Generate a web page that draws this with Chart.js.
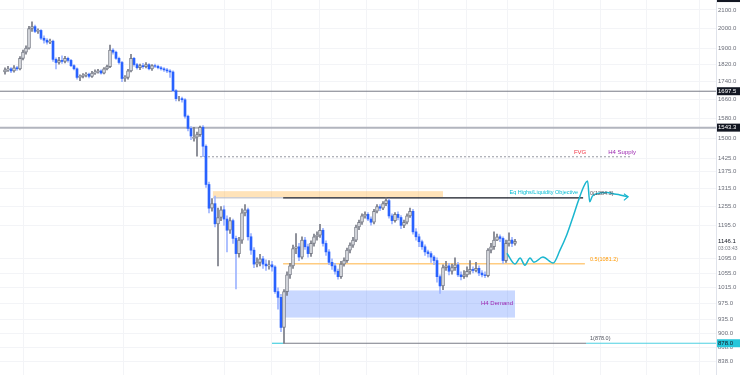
<!DOCTYPE html>
<html>
<head>
<meta charset="utf-8">
<script src="https://cdn.jsdelivr.net/npm/chart.js@4"></script>
<style>
html, body { margin: 0; padding: 0; background: #fff; }
#wrap { width: 750px; height: 375px; }
</style>
</head>
<body>
<div id="wrap"><canvas id="chart" width="750" height="375"></canvas></div>
<script>
// candle data (H4-ish bars, index = bar number)
const opens = [
  1785,1795,1800,1790,1805,1800,1850,1880,1900,2000,
  2010,1985,1990,1950,1940,1930,1935,1845,1830,1840,
  1835,1850,1840,1815,1800,1760,1765,1770,1775,1765,
  1780,1785,1790,1780,1800,1810,1890,1880,1850,1830,
  1755,1760,1790,1850,1820,1805,1815,1810,1820,1800,
  1815,1812,1805,1800,1795,1790,1785,1700,1665,1665,
  1660,1590,1540,1500,1505,1515,1545,1470,1330,1250,
  1265,1200,1220,1245,1215,1180,1210,1155,1110,1150,
  1235,1245,1160,1120,1080,1085,1095,1080,1075,1078,
  1072,1005,990,915,1005,1050,1075,1125,1130,1100,
  1150,1130,1110,1140,1160,1165,1180,1140,1115,1085,
  1075,1060,1045,1080,1090,1120,1135,1150,1190,1205,
  1225,1230,1215,1205,1240,1255,1250,1265,1275,1225,
  1210,1230,1220,1195,1205,1225,1240,1175,1160,1145,
  1130,1115,1110,1100,1090,1045,1020,1070,1075,1060,
  1070,1078,1050,1045,1050,1060,1065,1062,1068,1055,
  1050,1048,1120,1130,1150,1160,1155,1090,1140,1150,
  1140
];
const highs = [
  1805,1812,1806,1815,1812,1858,1890,1912,2012,2035,
  2018,1998,1995,1962,1948,1945,1940,1852,1855,1862,
  1860,1856,1845,1820,1805,1772,1778,1782,1780,1788,
  1795,1798,1795,1806,1818,1915,1898,1885,1856,1836,
  1768,1798,1870,1855,1826,1822,1826,1830,1825,1820,
  1822,1818,1812,1806,1802,1796,1790,1705,1675,1672,
  1665,1595,1548,1545,1525,1550,1552,1475,1338,1282,
  1290,1250,1255,1258,1225,1220,1215,1162,1158,1248,
  1262,1250,1170,1128,1098,1108,1102,1092,1090,1088,
  1076,1015,998,1010,1058,1082,1135,1170,1140,1160,
  1158,1138,1148,1168,1175,1198,1186,1148,1122,1095,
  1082,1066,1088,1098,1126,1142,1158,1196,1212,1232,
  1238,1236,1222,1246,1262,1262,1272,1284,1280,1232,
  1236,1238,1226,1212,1232,1250,1246,1185,1168,1150,
  1136,1120,1116,1104,1098,1050,1078,1088,1082,1080,
  1098,1085,1058,1062,1072,1090,1072,1085,1075,1062,
  1058,1125,1140,1175,1168,1166,1160,1150,1172,1158,
  1152
];
const lows = [
  1775,1788,1782,1784,1792,1795,1842,1870,1895,1985,
  1978,1975,1942,1925,1920,1922,1835,1800,1822,1826,
  1828,1832,1810,1795,1752,1745,1758,1762,1758,1760,
  1774,1780,1775,1776,1795,1805,1870,1845,1822,1740,
  1742,1752,1785,1812,1798,1796,1802,1804,1795,1792,
  1805,1800,1794,1788,1782,1760,1695,1655,1655,1650,
  1582,1530,1495,1490,1432,1508,1430,1320,1235,1240,
  1190,1075,1210,1195,1115,1170,1140,1012,1100,1140,
  1225,1150,1108,1070,1072,1075,1068,1062,1066,1060,
  1000,960,905,878,995,1040,1068,1110,1090,1095,
  1122,1100,1102,1132,1150,1158,1132,1105,1078,1065,
  1052,1038,1040,1074,1085,1112,1128,1145,1182,1198,
  1218,1210,1196,1200,1235,1242,1245,1258,1218,1200,
  1205,1212,1185,1188,1200,1220,1168,1150,1130,1122,
  1105,1100,1085,1078,1030,1000,1010,1062,1050,1052,
  1062,1045,1036,1040,1044,1052,1055,1058,1048,1044,
  1042,1044,1112,1122,1148,1145,1082,1085,1132,1130,
  1135
];
const closes = [
  1795,1800,1790,1805,1800,1850,1880,1900,2000,2010,
  1985,1990,1950,1940,1930,1935,1845,1830,1840,1835,
  1850,1840,1815,1800,1760,1765,1770,1775,1765,1780,
  1785,1790,1780,1800,1810,1890,1880,1850,1830,1755,
  1760,1790,1850,1820,1805,1815,1810,1820,1800,1815,
  1812,1805,1800,1795,1790,1785,1700,1665,1665,1660,
  1590,1540,1510,1505,1515,1545,1470,1330,1250,1265,
  1200,1220,1245,1215,1180,1210,1155,1110,1150,1235,
  1245,1160,1120,1080,1085,1095,1080,1075,1078,1072,
  1005,990,915,1005,1050,1075,1125,1130,1100,1150,
  1130,1110,1140,1160,1165,1180,1140,1115,1085,1075,
  1060,1045,1080,1090,1120,1135,1150,1190,1205,1225,
  1230,1215,1205,1240,1255,1250,1265,1275,1225,1210,
  1230,1220,1195,1205,1225,1240,1175,1160,1145,1130,
  1115,1110,1100,1090,1045,1020,1070,1075,1060,1070,
  1078,1050,1045,1050,1060,1065,1062,1068,1055,1050,
  1048,1120,1130,1150,1160,1155,1090,1140,1150,1140,
  1146.1
];

// price scale ticks
const yTicks = [2100, 2000, 1900, 1820, 1740, 1660, 1580, 1500, 1425, 1375, 1315,
  1255, 1195, 1095, 1055, 1015, 975, 935, 900, 868, 838];
// time grid (bar index)
const xGrid = [-0.3, 12.7, 66.3, 80, 97.7, 111.7, 129, 146.7, 160.7, 174, 191.7, 205, 222.7];

// levels
const keyLevels = [1697.5, 1543.3];
const fvgLevel = 1430;
const eqHigh = 1284.3;
const midLevel = 1081.2;
const swingLow = 878.0;
const currentPrice = 1146.1;

// zones: [startBar, endBar, lowPrice, highPrice]
const eqZone = [69.3, 146, 1287, 1307];
const demandZone = [93.3, 170, 939, 1008];

// projected path (bar index / price)
const projX = [167.3, 170, 171.7, 173.3, 175, 176.3, 179.3, 182.7, 185, 187.3, 189.3, 191, 192.7, 194.2, 194.9, 195.8, 197.5, 200.7, 202.7, 205, 207.7];
const projY = [1111, 1080, 1097, 1077, 1097, 1085, 1100, 1083, 1120, 1167, 1221, 1271, 1318, 1342, 1271, 1290, 1299, 1302, 1298, 1294, 1288];
const arrowX = [206.3, 207.7, 206.3];
const arrowY = [1298, 1288, 1276];

const isUp = closes.map((c, i) => c >= opens[i]);
const upBodies = [], downBodies = [];
closes.forEach((c, i) => {
  (isUp[i] ? upBodies : downBodies).push({ x: i, y: [opens[i], c] });
});
const wicks = closes.map((c, i) => ({ x: i, y: [lows[i], highs[i]] }));

function seg(x0, x1, p) {
  return [{ x: x0, y: p }, { x: x1, y: p }];
}
function lineSet(data, color, width, extra) {
  return Object.assign({
    type: 'line', data: data, borderColor: color, borderWidth: width,
    pointRadius: 0, fill: false, tension: 0, order: 3
  }, extra || {});
}

const FONT = '"Liberation Sans", Arial, sans-serif';

function text(ctx, s, x, y, color, size, align, weight) {
  ctx.font = (weight || 'normal') + ' ' + size + 'px ' + FONT;
  ctx.fillStyle = color;
  ctx.textAlign = align || 'center';
  ctx.textBaseline = 'middle';
  ctx.fillText(s, x, y);
}

const overlay = {
  id: 'overlay',
  beforeDatasetsDraw(chart) {
    const { ctx, scales: { x, y } } = chart;
    // zones
    const zones = [[eqZone, 'rgba(255,167,38,0.32)'], [demandZone, 'rgba(41,98,255,0.25)']];
    zones.forEach(([z, col]) => {
      const x0 = x.getPixelForValue(z[0]), x1 = x.getPixelForValue(z[1]);
      const y0 = y.getPixelForValue(z[3]), y1 = y.getPixelForValue(z[2]);
      ctx.fillStyle = col;
      ctx.fillRect(x0, y0, x1 - x0, y1 - y0);
    });
  },
  afterDraw(chart) {
    const { ctx, scales: { x, y } } = chart;
    const px = v => x.getPixelForValue(v);
    const py = v => y.getPixelForValue(v);

    // annotation texts
    text(ctx, 'FVG', px(191.7), py(1448), '#f23645', 6);
    text(ctx, 'H4 Supply', px(205.7), py(1448), '#9c27b0', 6, 'center');
    text(ctx, 'Eq Highs/Liquidity Objective', px(191), py(1301), '#00bcd4', 5.5, 'right');
    text(ctx, '0(' + eqHigh.toFixed(1) + ')', px(195), py(1298), '#50535e', 5.5, 'left');
    text(ctx, '0.5(' + midLevel.toFixed(1) + ')', px(195), py(1094), '#ff9800', 5.5, 'left');
    text(ctx, 'H4 Demand', px(164), py(974), '#9c27b0', 6, 'center');
    text(ctx, '1(' + swingLow.toFixed(1) + ')', px(195), py(889), '#50535e', 5.5, 'left');

    // price axis labels
    const ax = chart.chartArea.right + 2;
    yTicks.forEach(v => {
      text(ctx, v.toFixed(1), ax, py(v), '#6a6d78', 6, 'left');
    });

    // tagged prices on the axis
    const tag = (v, bg, fg, label) => {
      const cy = py(v);
      ctx.fillStyle = bg;
      ctx.fillRect(ax - 1, cy - 4, 23, 8);
      text(ctx, label, ax, cy, fg, 6, 'left');
    };
    tag(2166, '#131722', '#ffffff', '2166.0');
    tag(keyLevels[0], '#131722', '#ffffff', keyLevels[0].toFixed(1));
    tag(keyLevels[1], '#131722', '#ffffff', keyLevels[1].toFixed(1));
    tag(swingLow, '#26c6da', '#131722', swingLow.toFixed(1));

    const cy = py(currentPrice);
    ctx.fillStyle = '#ffffff';
    ctx.fillRect(ax - 1, cy - 4, 26, 15);
    text(ctx, currentPrice.toFixed(1), ax, cy, '#131722', 6, 'left');
    text(ctx, '03:03:43', ax, cy + 7, '#787b86', 5, 'left');
  }
};

const ctxChart = document.getElementById('chart').getContext('2d');
new Chart(ctxChart, {
  type: 'bar',
  data: {
    datasets: [
      {
        // rising bodies
        data: upBodies,
        backgroundColor: '#e3e5ea',
        borderColor: '#787b86',
        borderWidth: 1,
        borderSkipped: false,
        barThickness: 3,
        grouped: false,
        order: 1
      },
      {
        // falling bodies
        data: downBodies,
        backgroundColor: '#2962ff',
        borderWidth: 0,
        barThickness: 2,
        grouped: false,
        order: 1
      },
      {
        // wicks
        data: wicks,
        backgroundColor: isUp.map(u => u ? '#787b86' : '#9db4ff'),
        borderWidth: 0,
        barThickness: 1,
        grouped: false,
        order: 2
      },
      lineSet(seg(-1.7, 237, keyLevels[0]), '#787b86', 1),
      lineSet(seg(-1.7, 237, keyLevels[1]), '#b2b5be', 2),
      lineSet(seg(65, 209, fvgLevel), '#9598a1', 1, { borderDash: [2, 2] }),
      lineSet(seg(69.3, 92.7, eqHigh), '#b2b5be', 1),
      lineSet(seg(92.7, 192.7, eqHigh), '#131722', 1.2),
      lineSet(seg(92.7, 193.3, midLevel), '#ffcc80', 1.5),
      lineSet(seg(92.7, 193.7, swingLow), '#787b86', 1.2),
      lineSet(seg(89, 92.7, swingLow), '#26c6da', 1),
      lineSet(seg(193.7, 237, swingLow), '#4dd0e1', 1),
      lineSet(projX.map((v, i) => ({ x: v, y: projY[i] })), '#1ab6cf', 1.5,
        { cubicInterpolationMode: 'monotone', order: 0 }),
      lineSet(arrowX.map((v, i) => ({ x: v, y: arrowY[i] })), '#1ab6cf', 1.2, { order: 0 })
    ]
  },
  options: {
    responsive: false,
    animation: false,
    layout: { padding: 0 },
    plugins: {
      legend: { display: false },
      tooltip: { enabled: false }
    },
    scales: {
      x: {
        type: 'linear',
        min: -1.667,
        max: 237,
        offset: false,
        afterBuildTicks: s => { s.ticks = xGrid.map(v => ({ value: v })); },
        grid: { color: '#f3f4f7', drawTicks: false },
        border: { display: false },
        ticks: { display: false }
      },
      y: {
        type: 'logarithmic',
        position: 'right',
        min: 808,
        max: 2155,
        afterBuildTicks: s => { s.ticks = yTicks.map(v => ({ value: v })); },
        afterFit: s => { s.width = 34; },
        grid: { color: '#f3f4f7', drawTicks: false },
        border: { color: '#e0e3eb' },
        ticks: { display: false }
      }
    }
  },
  plugins: [overlay]
});
</script>
</body>
</html>
